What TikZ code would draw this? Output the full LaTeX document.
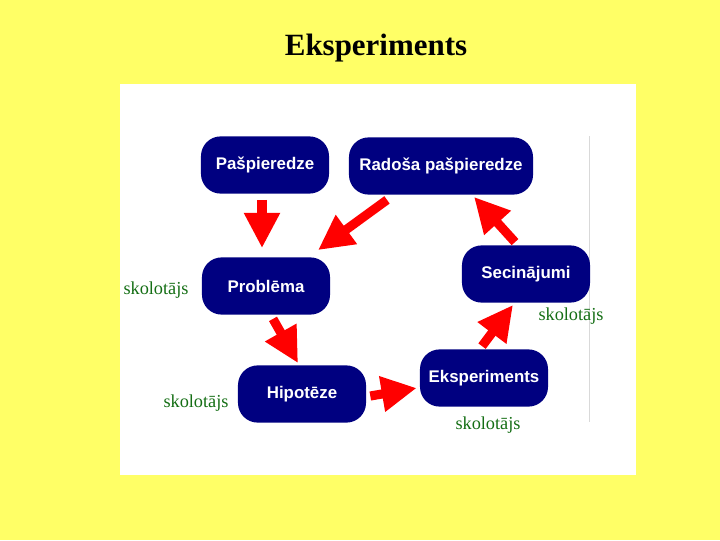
\documentclass[tikz,border=0pt]{standalone}
\usepackage{fontspec}
\setmainfont{Liberation Serif}
\setsansfont{Liberation Sans}
\usetikzlibrary{arrows.meta}
\definecolor{slideyellow}{RGB}{255,255,102}
\definecolor{boxnavy}{RGB}{0,0,128}
\definecolor{arrowred}{RGB}{255,0,0}
\definecolor{teachgreen}{RGB}{20,110,20}
\begin{document}
\begin{tikzpicture}[x=0.025cm,y=-0.025cm,
  stage/.style={rectangle,rounded corners=14pt,fill=boxnavy,text=white,
    font=\sffamily\bfseries\fontsize{12}{14}\selectfont,
    minimum width=3.2cm,minimum height=1.43cm,inner sep=0pt},
  bigarrow/.style={draw=arrowred,line width=6.5pt,
    -{Triangle[length=25pt,width=24pt,fill=arrowred]}},
  teacher/.style={text=teachgreen,font=\fontsize{13}{15}\selectfont}]
  \fill[slideyellow] (0,0) rectangle (720,540);
  \useasboundingbox (0,0) rectangle (720,540);
  \fill[white] (120,84) rectangle (636,475);
  \draw[gray!30,line width=0.6pt] (589,136)--(589,422);
  \node[font=\bfseries\fontsize{22}{26}\selectfont] (title) at (376,48) {Eksperiments};
  \node[stage] (pas) at (265,165) {Pašpieredze};
  \node[stage,minimum width=4.6cm] (rad) at (441,166) {Radoša pašpieredze};
  \node[stage] (prob) at (266,286) {Problēma};
  \node[stage] (sec) at (526,274) {Secinājumi};
  \node[stage] (hyp) at (302,394) {Hipotēze};
  \node[stage] (eks) at (484,378) {Eksperiments};
  \draw[bigarrow] ([shift={(-3,6)}]pas.south)--([shift={(-4,-9)}]prob.north);
  \draw[bigarrow] ([shift={(-54,5)}]rad.south)--([shift={(52,-7)}]prob.north);
  \draw[bigarrow] ([shift={(-11,-3)}]sec.north)--([shift={(33,2)}]rad.south);
  \draw[bigarrow] ([shift={(7,4)}]prob.south)--([shift={(-4,-2)}]hyp.north);
  \draw[bigarrow] ([shift={(4,2)}]hyp.east)--([shift={(-3,10)}]eks.west);
  \draw[bigarrow] ([shift={(-2,-3)}]eks.north)--([shift={(-13,2)}]sec.south);
  \node[teacher] (t1) at (156,290) {skolotājs};
  \node[teacher] (t2) at (571,316) {skolotājs};
  \node[teacher] (t3) at (196,403) {skolotājs};
  \node[teacher] (t4) at (488,425) {skolotājs};
\end{tikzpicture}
\end{document}
